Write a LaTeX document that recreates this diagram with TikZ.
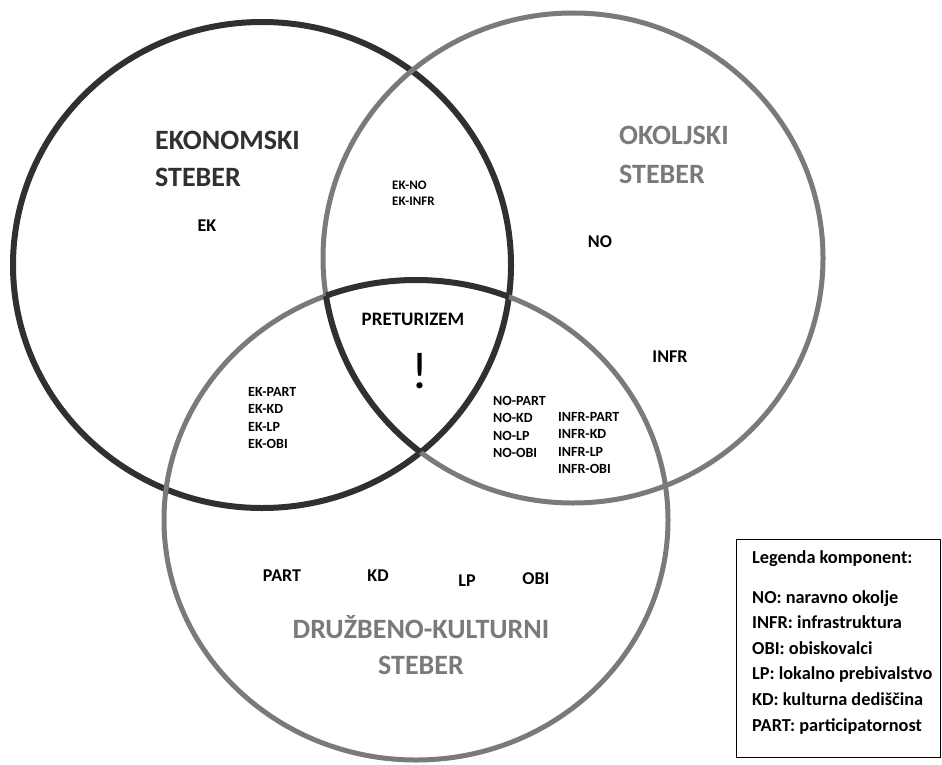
\documentclass[tikz,border=0pt]{standalone}
\usepackage{fontspec}
\setmainfont{Carlito}
\usetikzlibrary{positioning}
\definecolor{temna}{gray}{0.19}
\definecolor{siva}{gray}{0.48}
\tikzset{
    krog/.style={
        line width=5pt,
        draw=siva,
    },
    jedro/.style={
        line width=6pt,
        draw=temna,
    },
    ekr/.style={x radius=249, y radius=243},
    okr/.style={x radius=250, y radius=245},
    drr/.style={x radius=252, y radius=240},
    naslov/.style={
        font=\bfseries\fontsize{28}{30}\selectfont,
        inner sep=0pt,
    },
    komp/.style={
        font=\bfseries\fontsize{18}{20}\selectfont,
        inner sep=0pt,
    },
    par/.style={
        font=\bfseries\fontsize{14}{17.5}\selectfont,
        align=left,
        inner sep=0pt,
    },
    leg/.style={
        font=\bfseries\fontsize{18.3}{20}\selectfont,
        inner sep=0pt,
        anchor=base west,
    },
}

\begin{document}
\begin{tikzpicture}[x=1pt,y=-1pt]
    \useasboundingbox (0,0) rectangle (942,765);
    % sredisca stebrov
    \coordinate (ek) at (262,265);
    \coordinate (ok) at (573,258);
    \coordinate (dr) at (416,520);
    \draw[jedro] (ek) ellipse [ekr];
    \draw[krog] (ok) ellipse [okr];
    \draw[krog] (dr) ellipse [drr];
    % presek vseh treh
    \begin{scope}
        \clip (ek) ellipse [ekr];
        \clip (ok) ellipse [okr];
        \draw[jedro] (dr) ellipse [drr];
    \end{scope}
    \begin{scope}
        \clip (ek) ellipse [ekr];
        \clip (dr) ellipse [drr];
        \draw[jedro] (ok) ellipse [okr];
    \end{scope}
    % naslovi
    \node[naslov, text=temna, anchor=west] (ekon) at (155,140) {EKONOMSKI};
    \node[naslov, text=temna, anchor=west] (ekst) at (155,177) {STEBER};
    \node[naslov, text=siva, anchor=west] (okol) at (619,135) {OKOLJSKI};
    \node[naslov, text=siva, anchor=west] (okst) at (619,174) {STEBER};
    \node[naslov, text=siva] (druz) at (421,627) {DRUŽBENO-KULTURNI};
    \node[naslov, text=siva] (drst) at (421,665) {STEBER};
    % komponente
    \node[komp] (EK) at (207,226) {EK};
    \node[komp] (NO) at (600,242) {NO};
    \node[komp] (INFR) at (670,357) {INFR};
    \node[komp] (PART) at (282,576) {PART};
    \node[komp] (KD) at (378,576) {KD};
    \node[komp] (LP) at (467,581) {LP};
    \node[komp] (OBI) at (536,579) {OBI};
    \node[komp, font=\bfseries\fontsize{19}{20}\selectfont] (pret) at (413,319) {PRETURIZEM};
    \node[font=\fontsize{52}{56}\selectfont, inner sep=0pt] (klicaj) at (420,371) {!};
    % pari
    \node[par, font=\bfseries\fontsize{13}{16}\selectfont, anchor=west] (ekno) at (392,193) {EK-NO\\EK-INFR};
    \node[par, anchor=west] (ekdr) at (248,418) {EK-PART\\EK-KD\\EK-LP\\EK-OBI};
    \node[par, anchor=west] (nodr) at (493,427) {NO-PART\\NO-KD\\NO-LP\\NO-OBI};
    \node[par, anchor=west] (infdr) at (558,443) {INFR-PART\\INFR-KD\\INFR-LP\\INFR-OBI};
    % legenda
    \node[draw=black, line width=1.2pt, anchor=north west, minimum width=204, minimum height=218, inner sep=0pt] (legenda) at (736,539) {};
    \node[leg] (l0) at (752,563) {Legenda komponent:};
    \node[leg] (l1) at (752,603) {NO: naravno okolje};
    \node[leg] (l2) at (752,628.6) {INFR: infrastruktura};
    \node[leg] (l3) at (752,654.2) {OBI: obiskovalci};
    \node[leg] (l4) at (752,679.8) {LP: lokalno prebivalstvo};
    \node[leg] (l5) at (752,705.4) {KD: kulturna dediščina};
    \node[leg] (l6) at (752,731) {PART: participatornost};
\end{tikzpicture}
\end{document}
